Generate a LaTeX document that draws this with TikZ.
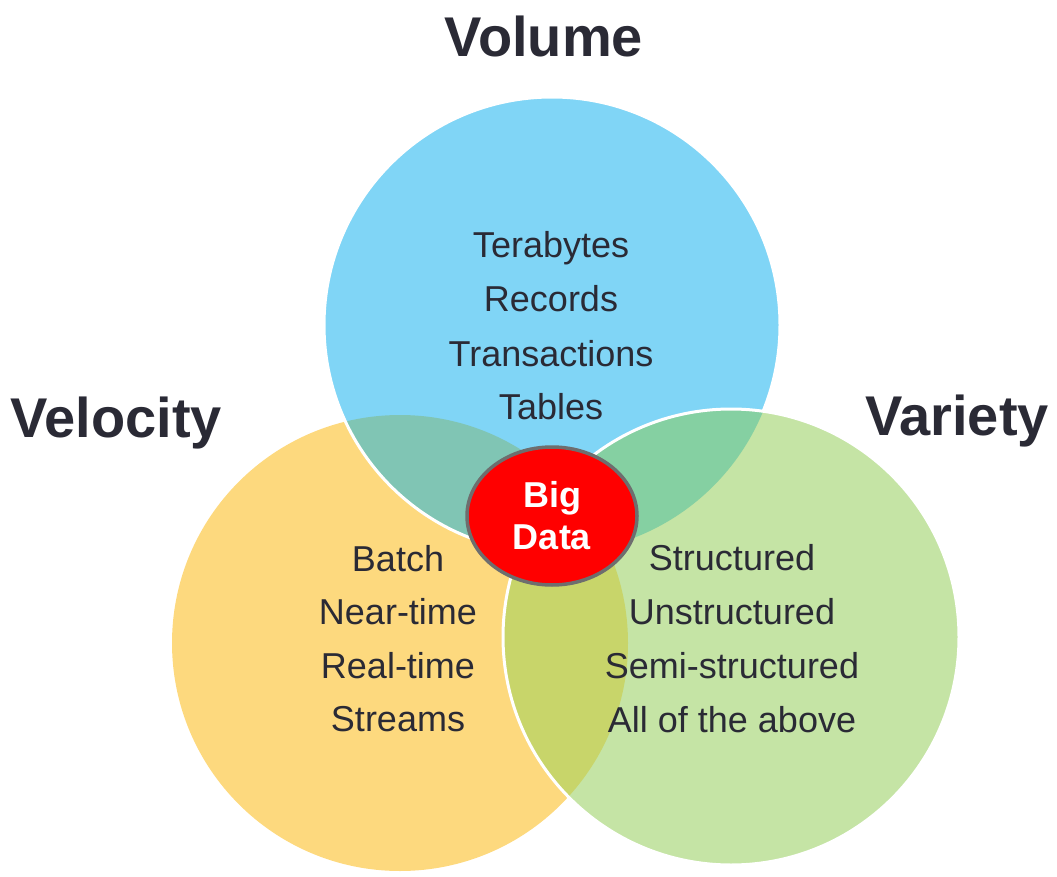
\documentclass[tikz,border=0pt]{standalone}
\usepackage{fontspec}
\setmainfont{Liberation Sans}
\usetikzlibrary{shapes.geometric}
\definecolor{cblue}{HTML}{80D5F6}
\definecolor{cyellow}{HTML}{FDD97E}
\definecolor{cgreen}{HTML}{C5E4A5}
\definecolor{cteal}{HTML}{80C5B4}
\definecolor{cbg}{HTML}{85D0A2}
\definecolor{cyg}{HTML}{C8D56A}
\definecolor{ctri}{HTML}{8CC68C}
\definecolor{ctext}{HTML}{2A2A35}
\definecolor{cedge}{HTML}{6E6E6E}
\tikzset{
  title/.style={anchor=base, inner sep=0pt, text=ctext, font=\fontsize{56}{60}\selectfont\bfseries},
  item/.style={anchor=base, inner sep=0pt, text=ctext, font=\fontsize{36}{40}\selectfont},
  whiteedge/.style={draw=white, line width=3pt},
  core/.style={ellipse, fill=red, draw=cedge, line width=3.5pt, minimum width=170pt, minimum height=138pt, inner sep=0pt, align=center, text=white, font=\fontsize{36}{42}\selectfont\bfseries}
}
\begin{document}
\begin{tikzpicture}[x=1pt,y=-1pt]
\useasboundingbox (0,0) rectangle (1057,877);
% circles
\fill[cyellow] (400,643) circle (228pt);
\fill[cblue] (552,325) circle (228pt);
\begin{scope}
  \clip (400,643) circle (228pt);
  \fill[cteal] (552,325) circle (228pt);
\end{scope}
\draw[whiteedge] (552,325) circle (228pt);
\fill[cgreen] (731,637) circle (228pt);
\begin{scope}
  \clip (731,637) circle (228pt);
  \fill[cbg] (552,325) circle (228pt);
  \fill[cyg] (400,643) circle (228pt);
  \clip (552,325) circle (228pt);
  \fill[ctri] (400,643) circle (228pt);
\end{scope}
\draw[whiteedge] (731,637) circle (228pt);
% titles
\node[title] (tvol) at (544,57) {Volume};
\node[title] (tvel) at (116,437) {Velocity};
\node[title] (tvar) at (957,435) {Variety};
% lists
\node[item] (v1) at (551,258) {Terabytes};
\node[item] (v2) at (551,312) {Records};
\node[item] (v3) at (551,366) {Transactions};
\node[item] (v4) at (551,419) {Tables};
\node[item] (s1) at (398,571) {Batch};
\node[item] (s2) at (398,624) {Near-time};
\node[item] (s3) at (398,678) {Real-time};
\node[item] (s4) at (398,731) {Streams};
\node[item] (r1) at (732,570) {Structured};
\node[item] (r2) at (732,624) {Unstructured};
\node[item] (r3) at (732,678) {Semi-structured};
\node[item] (r4) at (732,732) {All of the above};
% core
\node[core] (big) at (552,516) {Big\\Data};
\end{tikzpicture}
\end{document}
